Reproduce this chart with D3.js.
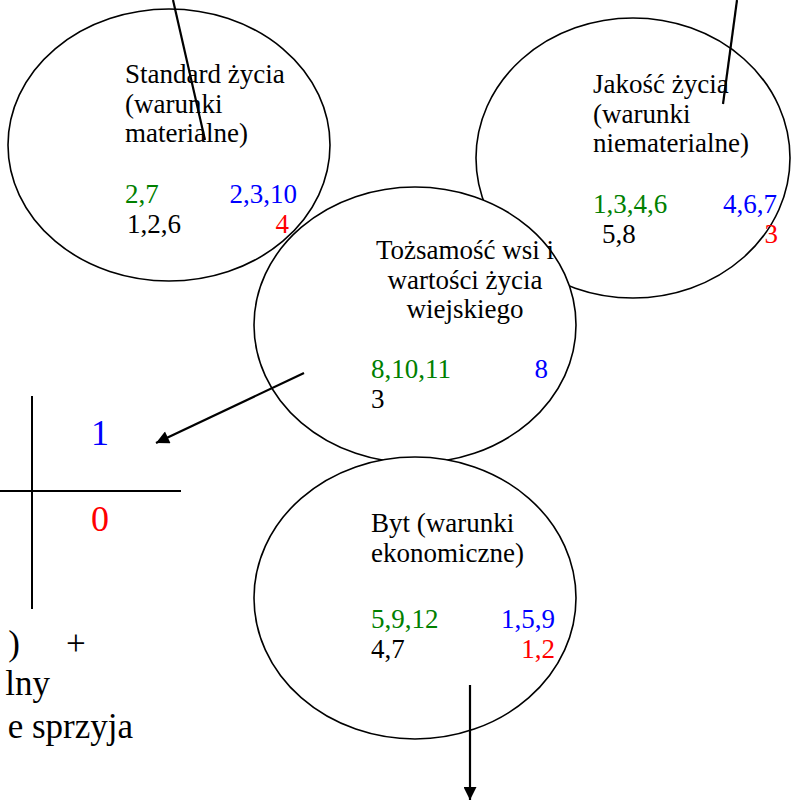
<!DOCTYPE html>
<html lang="pl">
<head>
<meta charset="utf-8">
<title>Wymiary jakości życia na wsi</title>
<script src="https://cdn.jsdelivr.net/npm/d3@7/dist/d3.min.js"></script>
<style>
    body { margin: 0; background: #fff; }
    svg { display: block; font-family: "Liberation Serif", "Times New Roman", serif; }
</style>
</head>
<body>
<div id="chart"></div>
<script>
"use strict";
// ---- data ----
var titles = [
    ["Standard życia", "(warunki", "materialne)"],
    ["Jakość życia", "(warunki", "niematerialne)"],
    ["Tożsamość wsi i", "wartości życia", "wiejskiego"],
    ["Byt (warunki", "ekonomiczne)"]
];
var greenCodes = ["2,7", "1,3,4,6", "8,10,11", "5,9,12"];
var blueCodes  = ["2,3,10", "4,6,7", "8", "1,5,9"];
var blackCodes = ["1,2,6", "5,8", "3", "4,7"];
var redCodes   = ["4", "3", "", "1,2"];
var scaleLabels = ["1", "0"];
var noteLines = [")", "+", "lny", "e sprzyja"];

// ---- layout ----
var width = 791, height = 800;
var font = 27, lead = 29.5;
var shapes = [
    {cx: 169, cy: 145, rx: 161, ry: 136, tx: 125, anchor: "start", ty: 83,  cy1: 203, bx: 127, blueR: 297, redR: 289},
    {cx: 633, cy: 158, rx: 157, ry: 140, tx: 593, anchor: "start", ty: 93,  cy1: 213, bx: 602, blueR: 777, redR: 778},
    {cx: 415, cy: 325, rx: 161, ry: 138, tx: 465, anchor: "middle", ty: 259, cy1: 378, bx: 371, gx: 371, blueR: 548, redR: 548},
    {cx: 415, cy: 598, rx: 161, ry: 141, tx: 371, anchor: "start", ty: 532, cy1: 628, bx: 371, blueR: 555, redR: 555}
];

var svg = d3.select("#chart").append("svg")
    .attr("width", width)
    .attr("height", height);

var defs = svg.append("defs");
defs.append("marker")
    .attr("id", "head")
    .attr("viewBox", "0 0 10 10")
    .attr("refX", 10).attr("refY", 5)
    .attr("markerUnits", "userSpaceOnUse")
    .attr("markerWidth", 17).attr("markerHeight", 13)
    .attr("orient", "auto")
    .append("path")
    .attr("d", "M0,0 L10,5 L0,10 Z")
    .attr("fill", "#000");

// ellipses, later ones cover earlier ones
svg.selectAll("ellipse")
    .data(shapes)
    .enter()
    .append("ellipse")
    .attr("cx", d => d.cx).attr("cy", d => d.cy)
    .attr("rx", d => d.rx).attr("ry", d => d.ry)
    .attr("fill", "#fff")
    .attr("stroke", "#000")
    .attr("stroke-width", 1.6);

// texts inside each ellipse
shapes.forEach(function(s, i) {
    var g = svg.append("g").style("font-size", font + "px");
    g.selectAll("text.title")
        .data(titles[i])
        .enter()
        .append("text")
        .attr("class", "title")
        .attr("x", s.tx)
        .attr("y", (d, k) => s.ty + k * lead)
        .attr("text-anchor", s.anchor)
        .attr("fill", "#000")
        .text(d => d);
    var left = s.gx || (s.anchor === "middle" ? s.bx : s.tx);
    g.append("text").attr("x", left).attr("y", s.cy1).attr("fill", "#008000").text(greenCodes[i]);
    g.append("text").attr("x", s.bx).attr("y", s.cy1 + 30).attr("fill", "#000").text(blackCodes[i]);
    g.append("text").attr("x", s.blueR).attr("y", s.cy1).attr("text-anchor", "end").attr("fill", "#0000ff").text(blueCodes[i]);
    g.append("text").attr("x", s.redR).attr("y", s.cy1 + 30).attr("text-anchor", "end").attr("fill", "#ff0000").text(redCodes[i]);
});

// plain connector lines coming from the top
var lines = [
    [[173, 0], [205, 140]],
    [[737, 0], [723, 104]]
];
svg.selectAll("line.conn")
    .data(lines)
    .enter()
    .append("line")
    .attr("class", "conn")
    .attr("x1", d => d[0][0]).attr("y1", d => d[0][1])
    .attr("x2", d => d[1][0]).attr("y2", d => d[1][1])
    .attr("stroke", "#000")
    .attr("stroke-width", 2.2);

// arrows
var arrows = [
    [[304, 373], [156, 443]],
    [[470, 685], [470, 800]]
];
svg.selectAll("line.arrow")
    .data(arrows)
    .enter()
    .append("line")
    .attr("class", "arrow")
    .attr("x1", d => d[0][0]).attr("y1", d => d[0][1])
    .attr("x2", d => d[1][0]).attr("y2", d => d[1][1])
    .attr("stroke", "#000")
    .attr("stroke-width", 2.2)
    .attr("marker-end", "url(#head)");

// cross with scale labels
var cross = svg.append("g").attr("stroke", "#000").attr("stroke-width", 2);
cross.append("line").attr("x1", 32).attr("y1", 396).attr("x2", 32).attr("y2", 609);
cross.append("line").attr("x1", 0).attr("y1", 491).attr("x2", 181).attr("y2", 491);

svg.selectAll("text.scale")
    .data(scaleLabels)
    .enter()
    .append("text")
    .attr("class", "scale")
    .attr("x", 100)
    .attr("y", (d, i) => i === 0 ? 445 : 531)
    .attr("text-anchor", "middle")
    .attr("fill", (d, i) => i === 0 ? "#0000ff" : "#ff0000")
    .style("font-size", "36px")
    .text(d => d);

// clipped note text at the bottom left
var notePos = [[20, 655, "end"], [66, 655, "start"], [50, 695, "end"], [133, 738, "end"]];
svg.selectAll("text.note")
    .data(noteLines)
    .enter()
    .append("text")
    .attr("class", "note")
    .attr("x", (d, i) => notePos[i][0])
    .attr("y", (d, i) => notePos[i][1])
    .attr("text-anchor", (d, i) => notePos[i][2])
    .attr("fill", "#000")
    .style("font-size", "35px")
    .text(d => d);
</script>
</body>
</html>
